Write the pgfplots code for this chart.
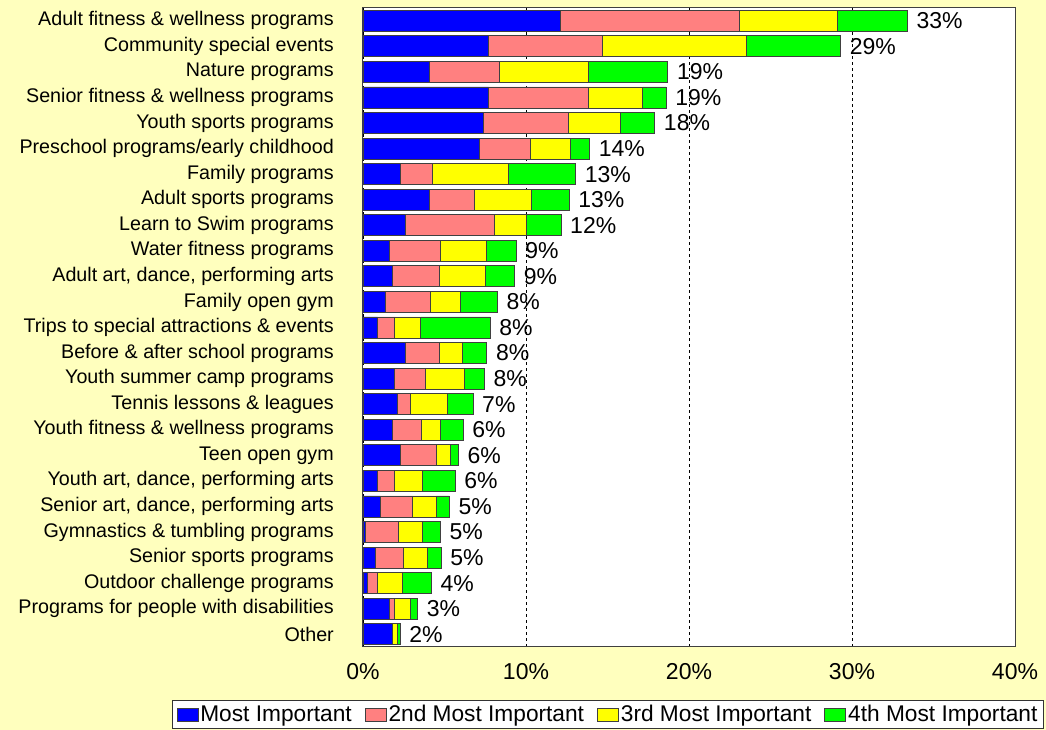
\documentclass[border=0pt]{standalone}
\usepackage{pgfplots}
\pgfplotsset{compat=1.18}
\usepackage{pgfplotstable}
\usepackage{fontspec}
\setmainfont{Liberation Sans}
\definecolor{bgyel}{RGB}{255,255,190}
\definecolor{cMost}{RGB}{0,0,255}
\definecolor{cSecond}{RGB}{255,128,128}
\definecolor{cThird}{RGB}{255,255,0}
\definecolor{cFourth}{RGB}{0,255,0}

\pgfplotstableread{
y a b c d lab
24 12.1 11.0 6.0 4.3 33
23 7.7 7.0 8.8 5.8 29
22 4.1 4.25 5.45 4.9 19
21 7.7 6.1 3.35 1.45 19
20 7.4 5.2 3.2 2.1 18
19 7.15 3.15 2.45 1.15 14
18 2.3 1.95 4.7 4.1 13
17 4.1 2.75 3.5 2.3 13
16 2.6 5.45 2.0 2.1 12
15 1.65 3.1 2.85 1.8 9
14 1.8 2.9 2.8 1.8 9
13 1.35 2.8 1.8 2.3 8
12 0.9 1.05 1.6 4.25 8
11 2.6 2.1 1.4 1.5 8
10 1.95 1.85 2.45 1.2 8
9 2.1 0.8 2.25 1.6 7
8 1.8 1.8 1.15 1.4 6
7 2.3 2.2 0.85 0.5 6
6 0.9 1.05 1.7 2.0 6
5 1.05 2.0 1.45 0.8 5
4 0.15 2.0 1.5 1.1 5
3 0.75 1.7 1.5 0.85 5
2 0.3 0.6 1.5 1.8 4
1 1.65 0.3 0.95 0.45 3
0 1.8 0.0 0.28 0.2 2
}\datatable

\begin{document}
\begin{tikzpicture}
\useasboundingbox (-363pt,-83pt) rectangle (683pt,647pt);
\fill[bgyel] (-363pt,-83pt) rectangle (683pt,647pt);
\begin{axis}[
  at={(0pt,0pt)}, anchor=south west,
  scale only axis, width=652pt, height=639pt,
  xbar stacked, bar width=21pt,
  xmin=0, xmax=40, ymin=-0.5, ymax=24.5,
  xtick={0,10,20,30,40},
  xticklabels={0\%,10\%,20\%,30\%,40\%},
  ytick={0,...,24},
  yticklabels={Other,Programs for people with disabilities,Outdoor challenge programs,Senior sports programs,Gymnastics \& tumbling programs,{Senior art, dance, performing arts},{Youth art, dance, performing arts},Teen open gym,Youth fitness \& wellness programs,Tennis lessons \& leagues,Youth summer camp programs,Before \& after school programs,Trips to special attractions \& events,Family open gym,{Adult art, dance, performing arts},Water fitness programs,Learn to Swim programs,Adult sports programs,Family programs,Preschool programs/early childhood,Youth sports programs,Senior fitness \& wellness programs,Nature programs,Community special events,Adult fitness \& wellness programs},
  yticklabel style={font=\fontsize{19.7}{22}\selectfont, inner sep=0pt, xshift=-29pt},
  xticklabel style={font=\fontsize{23}{26}\selectfont, inner sep=0pt, yshift=-16.5pt},
  major tick length=0pt,
  xmajorgrids,
  major grid style={draw=black, line width=0.9pt, dash pattern=on 3pt off 3pt},
  axis line style={draw=black!75, line width=1pt},
  axis background/.style={fill=white},
  legend image code/.code={\draw[#1, draw=black!75, line width=0.8pt] (0pt,-6.5pt) rectangle (21pt,6.5pt);},
  legend style={at={(axis description cs:-0.2929,-0.0829)}, anchor=north west,
    legend columns=4, draw=black!80, line width=1pt, fill=white,
    font=\fontsize{22.7}{26}\selectfont, inner xsep=4pt, inner ysep=3pt,
    /tikz/every even column/.append style={column sep=11pt},
    cells={anchor=west}},
]
\addplot[fill=cMost, draw=black!75, line width=0.8pt] table[x=a, y=y] {\datatable};
\addlegendentry{Most Important}
\addplot[fill=cSecond, draw=black!75, line width=0.8pt] table[x=b, y=y] {\datatable};
\addlegendentry{2nd Most Important}
\addplot[fill=cThird, draw=black!75, line width=0.8pt] table[x=c, y=y] {\datatable};
\addlegendentry{3rd Most Important}
\addplot[fill=cFourth, draw=black!75, line width=0.8pt] table[x=d, y=y] {\datatable};
\addlegendentry{4th Most Important}
\end{axis}
\begin{axis}[
  at={(0pt,0pt)}, anchor=south west,
  scale only axis, width=652pt, height=639pt,
  xmin=0, xmax=40, ymin=-0.5, ymax=24.5,
  hide axis, clip=false,
]
\addplot[only marks, mark=none, point meta=explicit symbolic,
  nodes near coords={\pgfplotspointmeta\%},
  nodes near coords style={anchor=west, inner sep=0pt, xshift=9pt, font=\fontsize{23}{26}\selectfont, text=black}]
  table[x expr=\thisrow{a}+\thisrow{b}+\thisrow{c}+\thisrow{d}, y=y, meta=lab] {\datatable};
\end{axis}
\end{tikzpicture}
\end{document}
